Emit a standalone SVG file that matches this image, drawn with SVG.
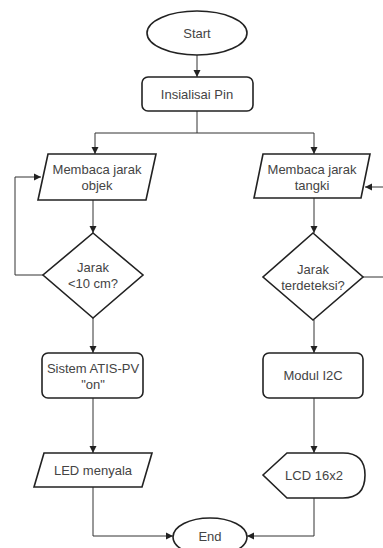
<svg xmlns="http://www.w3.org/2000/svg" width="383" height="548" viewBox="0 0 383 548">
<style>
.s{fill:#fff;stroke:#222;stroke-width:1.6}
.c{fill:none;stroke:#333;stroke-width:1}
text{font-family:"Liberation Sans",Arial,sans-serif;font-size:13px;fill:#444;text-anchor:middle}
</style>
<defs>
<marker id="a" markerWidth="8" markerHeight="8" refX="7" refY="4" orient="auto" markerUnits="userSpaceOnUse">
<path d="M0,0.5 L7,4 L0,7.5 Z" fill="#222"/>
</marker>
</defs>
<g id="connectors">
<path class="c" d="M197,55 V77" marker-end="url(#a)"/>
<path class="c" d="M197,111 V133 H95 V154" marker-end="url(#a)"/>
<path class="c" d="M197,133 H314 V154" marker-end="url(#a)"/>
<path class="c" d="M93,200 V233" marker-end="url(#a)"/>
<path class="c" d="M43,275 H15 V177 H41" marker-end="url(#a)"/>
<path class="c" d="M314,198 V233" marker-end="url(#a)"/>
<path class="c" d="M363,277 H390 V187 H365" marker-end="url(#a)"/>
<path class="c" d="M93,318 V353" marker-end="url(#a)"/>
<path class="c" d="M93,398 V453" marker-end="url(#a)"/>
<path class="c" d="M314,320 V353" marker-end="url(#a)"/>
<path class="c" d="M314,398 V453" marker-end="url(#a)"/>
<path class="c" d="M93,487 V536 H173" marker-end="url(#a)"/>
<path class="c" d="M314,498 V536 H247" marker-end="url(#a)"/>
</g>
<g id="start">
<ellipse class="s" cx="197" cy="33" rx="50" ry="22"/>
<text x="197" y="38">Start</text>
</g>
<g id="init">
<rect class="s" x="142" y="77" width="111" height="34" rx="6"/>
<text x="197" y="99">Insialisai Pin</text>
</g>
<g id="read-obj">
<path class="s" d="M48,154 H156 L146,200 H38 Z"/>
<text x="97" y="174">Membaca jarak</text>
<text x="97" y="190">objek</text>
</g>
<g id="read-tank">
<path class="s" d="M263,154 H370 L361,198 H254 Z"/>
<text x="312" y="174">Membaca jarak</text>
<text x="312" y="190">tangki</text>
</g>
<g id="dec-left">
<path class="s" d="M93,233 L143,275 L93,318 L43,275 Z"/>
<text x="93" y="272">Jarak</text>
<text x="93" y="288">&lt;10 cm?</text>
</g>
<g id="dec-right">
<path class="s" d="M313,233 L363,277 L313,320 L263,277 Z"/>
<text x="313" y="274">Jarak</text>
<text x="313" y="290">terdeteksi?</text>
</g>
<g id="atis">
<rect class="s" x="42" y="353" width="101" height="45" rx="6"/>
<text x="93" y="373">Sistem ATIS-PV</text>
<text x="93" y="389">"on"</text>
</g>
<g id="i2c">
<rect class="s" x="263" y="353" width="100" height="45" rx="6"/>
<text x="313" y="380">Modul I2C</text>
</g>
<g id="led">
<path class="s" d="M44,453 H152 L142,487 H34 Z"/>
<text x="93" y="475">LED menyala</text>
</g>
<g id="lcd">
<path class="s" d="M263,475 L287,453 H343 Q365,453 365,475 Q365,498 343,498 H287 Z"/>
<text x="314" y="480">LCD 16x2</text>
</g>
<g id="end">
<ellipse class="s" cx="210" cy="537" rx="37" ry="19"/>
<text x="210" y="541">End</text>
</g>
</svg>
